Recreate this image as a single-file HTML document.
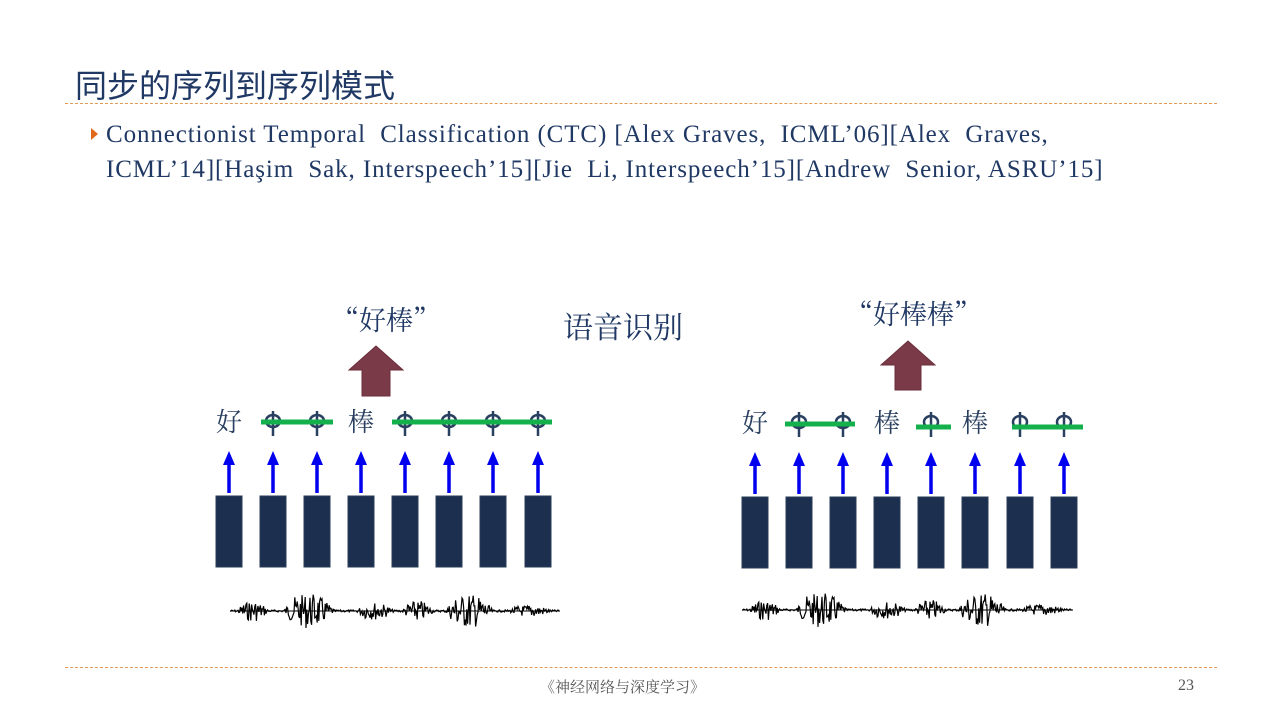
<!DOCTYPE html>
<html><head><meta charset="utf-8"><style>
body{margin:0;width:1280px;height:720px;background:#fff;position:relative;overflow:hidden;font-family:"Liberation Serif","Noto Serif CJK SC",serif;color:#1f3864}
.a{position:absolute;white-space:nowrap}
.dash{position:absolute;left:65px;width:1152px;border-top:1px dashed #e39a55}
</style></head><body>
<div class="a" style="left:75px;top:61px;font-size:32px;font-family:'Liberation Sans','Noto Sans CJK SC',sans-serif;color:#1f3864">同步的序列到序列模式</div>
<div class="dash" style="top:103px"></div>
<div class="a" style="left:91px;top:128px;width:0;height:0;border-left:7px solid #e06a1c;border-top:6px solid transparent;border-bottom:6px solid transparent"></div>
<div class="a" style="left:106px;top:117px;font-size:25px;letter-spacing:0.9px;line-height:35px">Connectionist Temporal&nbsp; Classification (CTC) [Alex Graves,&nbsp; ICML’06][Alex&nbsp; Graves,<br>ICML’14][Haşim&nbsp; Sak, Interspeech’15][Jie&nbsp; Li, Interspeech’15][Andrew&nbsp; Senior, ASRU’15]</div>
<div class="a" style="left:563px;top:303px;font-size:30px;font-family:'Noto Serif CJK SC',serif">语音识别</div>
<div class="a" style="left:332px;top:299px;font-size:27px;font-family:'Noto Serif CJK SC',serif">“好棒”</div>
<div class="a" style="left:846px;top:293px;font-size:27px;font-family:'Noto Serif CJK SC',serif">“好棒棒”</div>
<svg class="a" style="left:0;top:0" width="1280" height="720" id="s">
<polygon points="349,370 376,346 403,370 390,370 390,396 362,396 362,370" fill="#7a3a48" stroke="#6a2d3a"/>
<polygon points="881,365 908,341 935,365 921,365 921,390 895,390 895,365" fill="#7a3a48" stroke="#6a2d3a"/>
</svg>
<div class="dash" style="top:667px"></div>
<div class="a" style="left:540px;top:676px;font-size:15px;font-family:'Liberation Serif','Noto Serif CJK SC',serif;color:#555">《神经网络与深度学习》</div>
<div class="a" style="left:1178px;top:677px;font-size:16px;color:#555">23</div>
<script>
var s=document.getElementById('s'),h='';
function col(xs,yTop,lab,green,gy){
 xs.forEach(function(x,i){
  h+='<rect x="'+(x-13)+'" y="'+yTop+'" width="26" height="71" fill="#1c2f4e" stroke="#2a3b55"/>';
  h+='<line x1="'+x+'" y1="'+(yTop-3)+'" x2="'+x+'" y2="'+(yTop-33)+'" stroke="#0000ee" stroke-width="3.5"/>';
  h+='<polygon points="'+(x-6)+','+(yTop-31)+' '+x+','+(yTop-45)+' '+(x+6)+','+(yTop-31)+'" fill="#0000ee"/>';
  var c=lab[i];
  if(c=='φ'){var cy=gy;h+='<ellipse cx="'+x+'" cy="'+cy+'" rx="7" ry="6" fill="none" stroke="#2a4060" stroke-width="2.5"/><line x1="'+x+'" y1="'+(cy-10)+'" x2="'+x+'" y2="'+(cy+15)+'" stroke="#2a4060" stroke-width="2.5"/>';}
  else h+='<text x="'+x+'" y="'+(yTop-65)+'" font-size="26" text-anchor="middle" fill="#2a4060" font-family="Noto Serif CJK SC">'+c+'</text>';
 });
 green.forEach(function(g){h+='<line x1="'+g[0]+'" y1="'+g[2]+'" x2="'+g[1]+'" y2="'+g[2]+'" stroke="#13b04b" stroke-width="5"/>';});
}
col([229,273,317,361,405,449,493,538],496,['好','φ','φ','棒','φ','φ','φ','φ'],[[261,333,422],[392,552,422]],421);
col([755,799,843,887,931,975,1020,1064],497,['好','φ','φ','棒','φ','棒','φ','φ'],[[785,855,424],[916,951,427],[1012,1083,427]],422);
function wave(x0,x1,y){
 var seed=7;function r(){seed=(seed*9301+49297)%233280;return seed/233280;}
 var d='M'+x0+' '+y;
 var bursts=[[0.02,0.12,0.6],[0.16,0.32,1],[0.38,0.5,0.5],[0.52,0.62,0.6],[0.65,0.8,1],[0.84,0.98,0.35]];
 for(var x=x0;x<=x1;x+=0.8){
  var t=(x-x0)/(x1-x0),env=0.05;
  bursts.forEach(function(b){if(t>b[0]&&t<b[1]){var u=(t-b[0])/(b[1]-b[0]);env=Math.max(env,b[2]*Math.sin(u*Math.PI)*(u<0.3?1:0.8));}});
  var a=(r()-0.5)*2*env*22;
  d+=' L'+x.toFixed(1)+' '+(y+a).toFixed(1);
 }
 h+='<line x1="'+x0+'" y1="'+y+'" x2="'+x1+'" y2="'+y+'" stroke="#000" stroke-width="1"/>';
 h+='<path d="'+d+'" fill="none" stroke="#000" stroke-width="1.2"/>';
}
wave(230,560,611);
wave(742,1073,610);
s.insertAdjacentHTML('beforeend',h);
</script>
</body></html>
